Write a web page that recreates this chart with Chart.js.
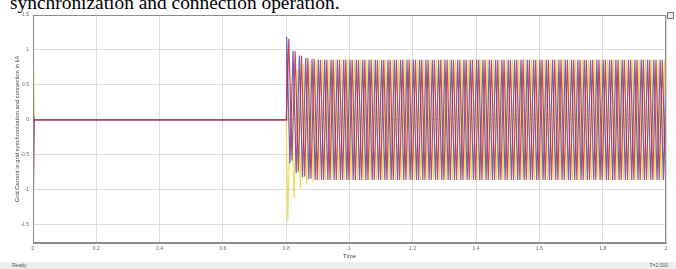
<!DOCTYPE html>
<html><head><meta charset="utf-8">
<script src="https://cdn.jsdelivr.net/npm/chart.js@4/dist/chart.umd.min.js"></script>
<style>
html,body{margin:0;padding:0;background:#fff;width:676px;height:269px;overflow:hidden;position:relative;}
#title{position:absolute;left:10px;top:-7px;font-family:"Liberation Serif","Times New Roman",serif;font-size:19.4px;line-height:20px;color:#000;white-space:nowrap;}
#wrap{position:absolute;left:0;top:0;width:676px;height:261px;}
#icon{position:absolute;left:667px;top:12px;width:5px;height:5px;border:1px solid #777;background:#eee;}
#status{position:absolute;left:0;top:262px;width:676px;height:7px;background:#eeeeee;font-family:"Liberation Sans",Arial,sans-serif;font-size:5px;line-height:7px;color:#555;}
#status .l{position:absolute;left:12px;top:0;}
#status .r{position:absolute;right:8px;top:0;}
</style>
</head><body>
<div id="title">synchronization and connection operation.</div>
<div id="wrap"><canvas id="c" width="676" height="261"></canvas></div>
<div id="icon"></div>
<div id="status"><span class="l">Ready</span><span class="r">T=2.000</span></div>
<script>
// ---- data ----
const xTicks = [0, 0.2, 0.4, 0.6, 0.8, 1, 1.2, 1.4, 1.6, 1.8, 2];
const yTicks = [-1.5, -1, -0.5, 0, 0.5, 1, 1.5];

// start-up transient before grid connection (time in s, current in kA)
const startTimes  = [0, 0.0015, 0.0045, 0.8];
const yellowStart = [0, 0.92, 0, 0];
const blueStart   = [0, 0.08, 0, 0];
const redStart    = [0, -1.0, 0, 0];

// half-cycle extremes after connection at 0.8 s (50 Hz, one value every 0.01 s)
const halfCycle = 0.01;
const yellowFirst = 0.805, blueFirst = 0.80167, redFirst = 0.80833;
const yellowExtremes = [
-1.45,0.52,-1.12,0.72,-0.98,0.80,-0.92,0.84,-0.89,0.85,-0.87,0.86,
-0.86,0.86,-0.86,0.86,-0.86,0.86,-0.86,0.86,-0.86,0.86,-0.86,0.86,-0.86,0.86,-0.86,0.86,-0.86,0.86,-0.86,0.86,
-0.86,0.86,-0.86,0.86,-0.86,0.86,-0.86,0.86,-0.86,0.86,-0.86,0.86,-0.86,0.86,-0.86,0.86,-0.86,0.86,-0.86,0.86,
-0.86,0.86,-0.86,0.86,-0.86,0.86,-0.86,0.86,-0.86,0.86,-0.86,0.86,-0.86,0.86,-0.86,0.86,-0.86,0.86,-0.86,0.86,
-0.86,0.86,-0.86,0.86,-0.86,0.86,-0.86,0.86,-0.86,0.86,-0.86,0.86,-0.86,0.86,-0.86,0.86,-0.86,0.86,-0.86,0.86,
-0.86,0.86,-0.86,0.86,-0.86,0.86,-0.86,0.86,-0.86,0.86,-0.86,0.86,-0.86,0.86,-0.86,0.86,-0.86,0.86,-0.86,0.86,
-0.86,0.86,-0.86,0.86,-0.86,0.86,-0.86,0.86
];
const blueExtremes = [
1.19,-0.62,0.99,-0.76,0.92,-0.82,0.89,-0.85,0.87,-0.86,
0.86,-0.86,0.86,-0.86,0.86,-0.86,0.86,-0.86,0.86,-0.86,0.86,-0.86,0.86,-0.86,0.86,-0.86,0.86,-0.86,0.86,-0.86,
0.86,-0.86,0.86,-0.86,0.86,-0.86,0.86,-0.86,0.86,-0.86,0.86,-0.86,0.86,-0.86,0.86,-0.86,0.86,-0.86,0.86,-0.86,
0.86,-0.86,0.86,-0.86,0.86,-0.86,0.86,-0.86,0.86,-0.86,0.86,-0.86,0.86,-0.86,0.86,-0.86,0.86,-0.86,0.86,-0.86,
0.86,-0.86,0.86,-0.86,0.86,-0.86,0.86,-0.86,0.86,-0.86,0.86,-0.86,0.86,-0.86,0.86,-0.86,0.86,-0.86,0.86,-0.86,
0.86,-0.86,0.86,-0.86,0.86,-0.86,0.86,-0.86,0.86,-0.86,0.86,-0.86,0.86,-0.86,0.86,-0.86,0.86,-0.86,0.86,-0.86,
0.86,-0.86,0.86,-0.86,0.86,-0.86,0.86,-0.86,0.86,-0.86
];
const redExtremes = [
1.16,-0.58,0.98,-0.74,0.92,-0.81,0.89,-0.84,0.87,-0.86,
0.86,-0.86,0.86,-0.86,0.86,-0.86,0.86,-0.86,0.86,-0.86,0.86,-0.86,0.86,-0.86,0.86,-0.86,0.86,-0.86,0.86,-0.86,
0.86,-0.86,0.86,-0.86,0.86,-0.86,0.86,-0.86,0.86,-0.86,0.86,-0.86,0.86,-0.86,0.86,-0.86,0.86,-0.86,0.86,-0.86,
0.86,-0.86,0.86,-0.86,0.86,-0.86,0.86,-0.86,0.86,-0.86,0.86,-0.86,0.86,-0.86,0.86,-0.86,0.86,-0.86,0.86,-0.86,
0.86,-0.86,0.86,-0.86,0.86,-0.86,0.86,-0.86,0.86,-0.86,0.86,-0.86,0.86,-0.86,0.86,-0.86,0.86,-0.86,0.86,-0.86,
0.86,-0.86,0.86,-0.86,0.86,-0.86,0.86,-0.86,0.86,-0.86,0.86,-0.86,0.86,-0.86,0.86,-0.86,0.86,-0.86,0.86,-0.86,
0.86,-0.86,0.86,-0.86,0.86,-0.86,0.86,-0.86,0.86,-0.86
];
const endTime = 2;
const yellowEnd = 0, blueEnd = 0.74, redEnd = -0.74;

function buildSeries(start, first, extremes, endVal) {
  const pts = startTimes.map((t, i) => ({x: t, y: start[i]}));
  extremes.forEach((v, i) => {
    const t = first + i * halfCycle;
    if (t < endTime) pts.push({x: t, y: v});
  });
  pts.push({x: endTime, y: endVal});
  return pts;
}

const framePlugin = {
  id: 'frame',
  afterDraw(chart) {
    const a = chart.chartArea, c = chart.ctx;
    c.save();
    c.strokeStyle = '#8c8c8c';
    c.lineWidth = 1;
    c.strokeRect(Math.round(a.left) + 0.5, Math.round(a.top) + 0.5,
                 Math.round(a.right - a.left) - 1, Math.round(a.bottom - a.top) - 1);
    c.restore();
  }
};

const tickFont = {family: '"Liberation Sans", Arial, sans-serif', size: 5};

new Chart(document.getElementById('c'), {
  type: 'line',
  data: {
    datasets: [
      {label: 'Ic', data: buildSeries(redStart, redFirst, redExtremes, redEnd), borderColor: 'rgba(185,45,70,0.85)', order: 0},
      {label: 'Ib', data: buildSeries(blueStart, blueFirst, blueExtremes, blueEnd), borderColor: 'rgba(88,72,178,0.85)', order: 1},
      {label: 'Ia', data: buildSeries(yellowStart, yellowFirst, yellowExtremes, yellowEnd), borderColor: 'rgba(240,218,80,0.95)', order: 2}
    ]
  },
  options: {
    responsive: false,
    animation: false,
    parsing: false,
    layout: {padding: {top: 15, right: 10, left: 0, bottom: 0}},
    plugins: {legend: {display: false}, tooltip: {enabled: false}, title: {display: false}},
    elements: {point: {radius: 0}, line: {borderWidth: 1.2, tension: 0}},
    scales: {
      x: {
        type: 'linear', min: 0, max: 2,
        afterBuildTicks: s => { s.ticks = xTicks.map(v => ({value: v})); },
        afterFit: s => { s.height = 18; },
        ticks: {font: tickFont, color: '#666', maxRotation: 0, padding: 3,
                callback: v => String(+Number(v).toFixed(1))},
        grid: {color: '#dcdcdc', drawTicks: false},
        border: {color: '#8c8c8c'},
        title: {display: true, text: 'Time', font: {family: '"Liberation Sans", Arial, sans-serif', size: 6}, color: '#444', padding: {top: 0, bottom: 1}}
      },
      y: {
        type: 'linear', min: -1.76, max: 1.5,
        afterBuildTicks: s => { s.ticks = yTicks.map(v => ({value: v})); },
        afterFit: s => { s.width = 33; },
        ticks: {font: tickFont, color: '#666', padding: 4,
                callback: v => String(+Number(v).toFixed(1))},
        grid: {color: '#dcdcdc', drawTicks: false},
        border: {color: '#8c8c8c'},
        title: {display: true, text: 'Grid Current in grid synchronization and connection in kA', font: {family: '"Liberation Sans", Arial, sans-serif', size: 5.8}, color: '#444', padding: {top: 14, bottom: 0}}
      }
    }
  },
  plugins: [framePlugin]
});
</script>
</body></html>
